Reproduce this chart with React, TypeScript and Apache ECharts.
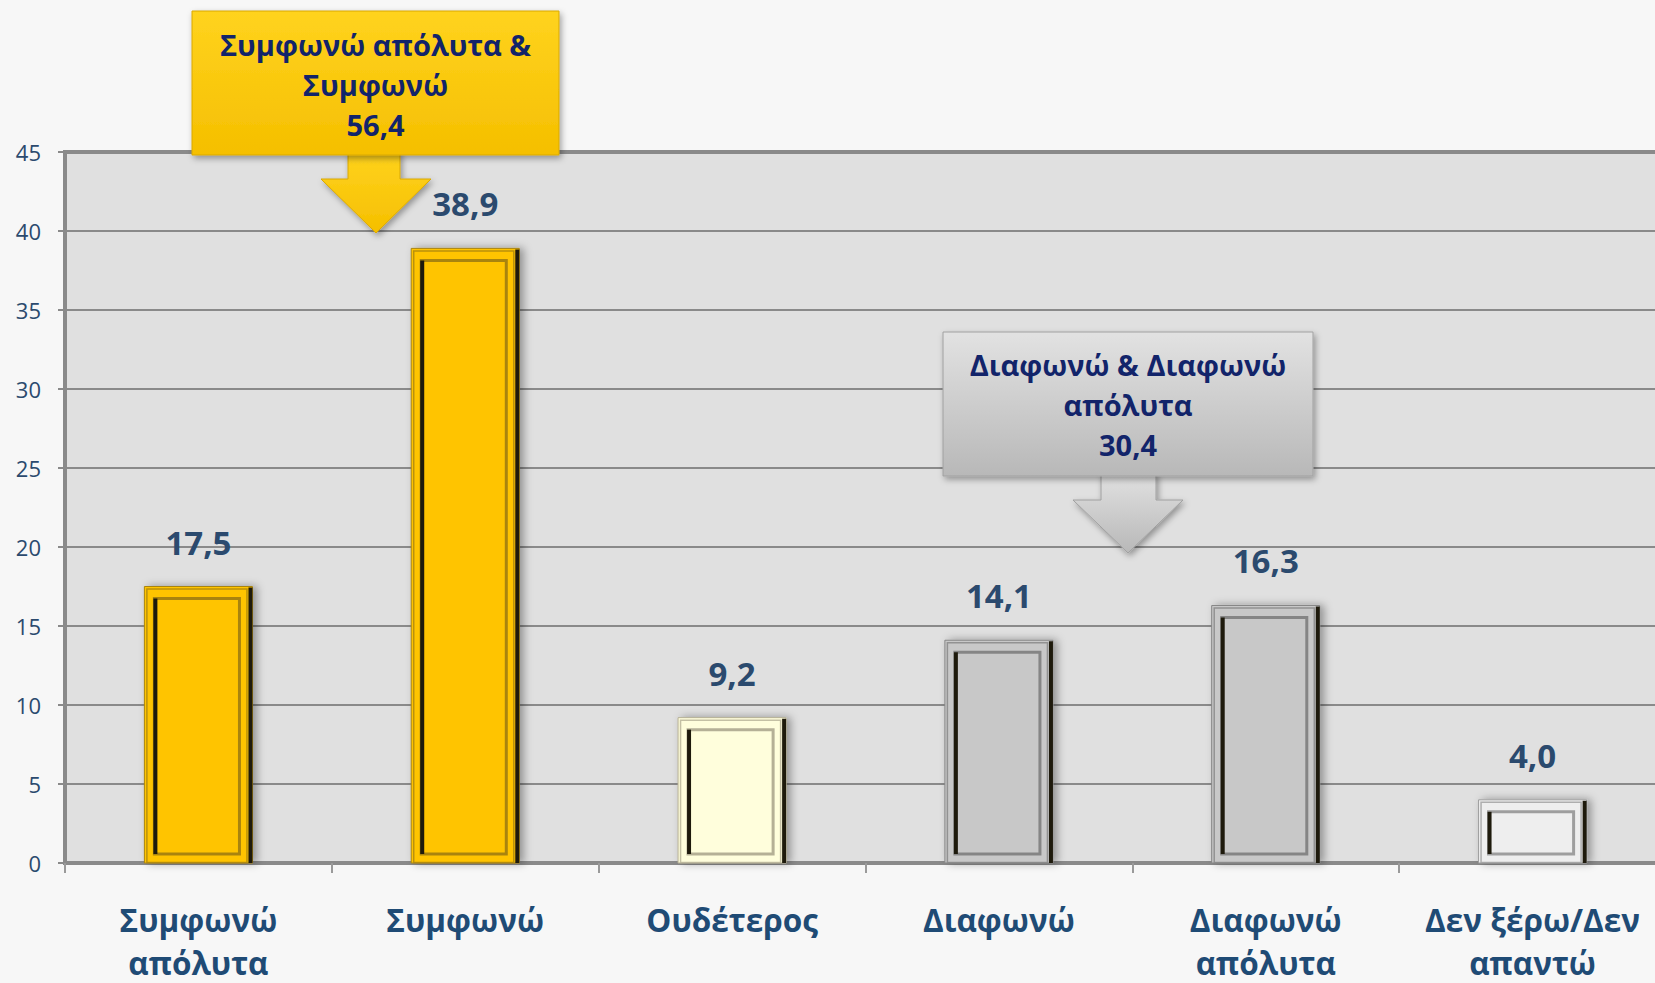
import React, { useEffect, useRef } from "react";
import * as echarts from "echarts";

const categories = [
  "Συμφωνώ\nαπόλυτα",
  "Συμφωνώ",
  "Ουδέτερος",
  "Διαφωνώ",
  "Διαφωνώ\nαπόλυτα",
  "Δεν ξέρω/Δεν\nαπαντώ",
];
const values = [17.5, 38.9, 9.2, 14.1, 16.3, 4.0];
const barFills = ["#FFC400", "#FFC400", "#FFFEDC", "#C8C8C8", "#C8C8C8", "#EEEEEE"];
const barEdges = ["#A9840E", "#A9840E", "#B5B096", "#858585", "#858585", "#9E9E9E"];
const yTicks = [0, 45, 5];
const calloutLabels = ["Συμφωνώ απόλυτα &\nΣυμφωνώ", "Διαφωνώ & Διαφωνώ\nαπόλυτα"];
const calloutValues = [56.4, 30.4];

const fmt = (v: number) => v.toFixed(1).replace(".", ",");
const FONT = "'Open Sans', 'Noto Sans', sans-serif";

function callout(
  box: { x: number; y: number; w: number; h: number },
  arrow: { sx0: number; sx1: number; hy: number; hx0: number; hx1: number; tip: number },
  top: string,
  bottom: string,
  border: string,
  text: string,
  textY: number
) {
  const cx = (arrow.hx0 + arrow.hx1) / 2;
  const grad = (a: string, b: string) =>
    new echarts.graphic.LinearGradient(0, 0, 0, 1, [
      { offset: 0, color: a },
      { offset: 1, color: b },
    ]);
  return [
    {
      type: "polygon",
      z: 100,
      shape: {
        points: [
          [arrow.sx0, box.y + box.h - 4],
          [arrow.sx1, box.y + box.h - 4],
          [arrow.sx1, arrow.hy],
          [arrow.hx1, arrow.hy],
          [cx, arrow.tip],
          [arrow.hx0, arrow.hy],
          [arrow.sx0, arrow.hy],
        ],
      },
      style: {
        fill: grad(top, bottom),
        stroke: border,
        lineWidth: 1,
        shadowBlur: 6,
        shadowColor: "rgba(0,0,0,0.35)",
        shadowOffsetX: 2,
        shadowOffsetY: 3,
      },
    },
    {
      type: "rect",
      z: 101,
      shape: { x: box.x, y: box.y, width: box.w, height: box.h },
      style: {
        fill: grad(top, bottom),
        stroke: border,
        lineWidth: 1,
        shadowBlur: 6,
        shadowColor: "rgba(0,0,0,0.35)",
        shadowOffsetX: 2,
        shadowOffsetY: 3,
      },
    },
    {
      type: "text",
      z: 102,
      x: box.x + box.w / 2,
      y: textY,
      style: {
        text,
        fill: "#12246A",
        font: `bold 29px ${FONT}`,
        align: "center",
        verticalAlign: "top",
        lineHeight: 40,
      },
    },
  ];
}

export default function App() {
  const ref = useRef<HTMLDivElement>(null);
  useEffect(() => {
    if (!ref.current) return;
    const chart = echarts.init(ref.current, null, { renderer: "svg" });
    const option: any = {
      animation: false,
      backgroundColor: "#F7F7F7",
      grid: {
        left: 65,
        top: 152,
        right: 4,
        bottom: 120,
        containLabel: false,
        outerBoundsMode: "none",
        show: true,
        backgroundColor: "#E0E0E0",
        borderColor: "#8A8A8A",
        borderWidth: 4,
      },
      xAxis: {
        type: "category",
        data: categories,
        axisLine: { show: true, lineStyle: { color: "#8A8A8A", width: 3 } },
        axisTick: { show: true, length: 10, interval: 0, lineStyle: { color: "#9A9A9A", width: 2 } },
        axisLabel: {
          interval: 0,
          margin: 35,
          fontFamily: FONT,
          fontWeight: "bold",
          fontSize: 31.5,
          lineHeight: 43,
          color: "#1F4B75",
        },
      },
      yAxis: {
        type: "value",
        min: yTicks[0],
        max: yTicks[1],
        interval: yTicks[2],
        axisLine: { show: false },
        axisTick: { show: true, length: 7, lineStyle: { color: "#8A8A8A", width: 2 } },
        splitLine: { show: true, lineStyle: { color: "#8A8A8A", width: 2 } },
        axisLabel: { margin: 24, fontFamily: FONT, fontSize: 22, color: "#2B4A6E" },
      },
      series: [
        {
          type: "custom",
          z: 2,
          data: values.map((v, i) => [i, v]),
          renderItem: (params: any, api: any) => {
            const i = params.dataIndex;
            const top = api.coord([api.value(0), api.value(1)]);
            const base = api.coord([api.value(0), 0]);
            const bw = api.size([1, 0])[0] * 0.405;
            const x = top[0] - bw / 2;
            const y = top[1];
            const w = bw;
            const h = base[1] - top[1];
            const fill = barFills[i];
            const edge = barEdges[i];
            const dark = "#1E1A0C";
            const ix = x + 10, iy = y + 12, iw = w - 23, ih = h - 21;
            return {
              type: "group",
              children: [
                {
                  type: "rect",
                  shape: { x, y, width: w, height: h },
                  style: {
                    fill,
                    stroke: edge,
                    lineWidth: 1,
                    shadowBlur: 8,
                    shadowColor: "rgba(0,0,0,0.35)",
                    shadowOffsetX: 4,
                    shadowOffsetY: 0,
                  },
                },
                {
                  type: "rect",
                  shape: { x: x + 2.5, y: y + 2.5, width: w - 8, height: h - 3 },
                  style: { fill: "none", stroke: edge, lineWidth: 1.5, opacity: 0.8 },
                },
                { type: "rect", shape: { x: x + w - 4, y: y + 1, width: 4, height: h - 1 }, style: { fill: dark } },
                {
                  type: "rect",
                  shape: { x: ix, y: iy, width: iw, height: ih },
                  style: { fill, stroke: edge, lineWidth: 3 },
                },
                { type: "rect", shape: { x: ix - 1, y: iy, width: 4, height: ih }, style: { fill: dark } },
              ],
            };
          },
        },
        {
          type: "bar",
          z: 3,
          data: values,
          barWidth: "40.5%",
          itemStyle: { color: "rgba(0,0,0,0)" },
          label: {
            show: true,
            position: "top",
            distance: 28,
            formatter: (p: any) => fmt(p.value),
            fontFamily: FONT,
            fontWeight: "bold",
            fontSize: 33,
            color: "#2B4A6E",
          },
        },
      ],
      graphic: [
        ...callout(
          { x: 192, y: 11, w: 367, h: 144 },
          { sx0: 348, sx1: 400, hy: 179, hx0: 321, hx1: 431, tip: 233 },
          "#FFD31E",
          "#F5BF00",
          "#D9A800",
          `${calloutLabels[0]}\n${fmt(calloutValues[0])}`,
          24
        ),
        ...callout(
          { x: 943, y: 332, w: 370, h: 144 },
          { sx0: 1101, sx1: 1156, hy: 500, hx0: 1073, hx1: 1183, tip: 553 },
          "#E2E2E2",
          "#B8B8B8",
          "#A0A0A0",
          `${calloutLabels[1]}\n${fmt(calloutValues[1])}`,
          344
        ),
      ],
    };
    chart.setOption(option);
    return () => chart.dispose();
  }, []);
  return (
    <div
      style={{
        position: "fixed",
        left: 0,
        top: 0,
        width: 1655,
        height: 983,
        overflow: "hidden",
        background: "#F7F7F7",
      }}
    >
      <div ref={ref} style={{ width: 1670, height: 983 }} />
    </div>
  );
}
